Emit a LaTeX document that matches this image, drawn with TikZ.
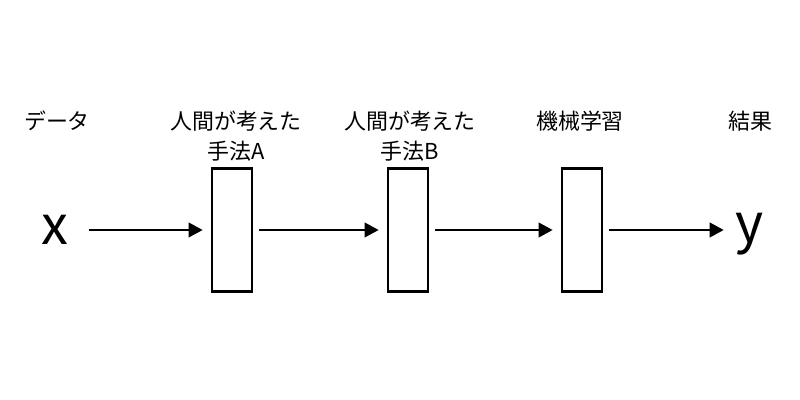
\documentclass[tikz,border=0pt]{standalone}
\usepackage{fontspec}
\setmainfont{Noto Sans CJK JP}
\usetikzlibrary{arrows.meta}

\tikzset{
	stage/.style={draw, line width=0.07cm, minimum width=1.0cm, minimum height=3.08cm, inner sep=0pt},
	flow/.style={line width=0.04cm, -{Triangle[length=0.35cm, width=0.37cm]}, shorten <=0.15cm, shorten >=0.2cm},
	caption/.style={anchor=north, align=center, inner sep=0pt, font=\fontsize{15.6}{21.3}\selectfont},
	var/.style={inner sep=0pt, font=\fontsize{38.4}{40}\selectfont}
}

\begin{document}
\begin{tikzpicture}
			%%%%% START %%%%%
			
			\useasboundingbox (0, 0) rectangle (20, 10);
			
			\node[var] (in) at (1.375, 4.25) {x};
			\node[var] (out) at (18.75, 4.15) {y};
			
			\node[stage] (boxA) at (5.8, 4.25) {};
			\node[stage] (boxB) at (10.2, 4.25) {};
			\node[stage] (boxC) at (14.55, 4.25) {};
			
			\node[caption] (capIn) at (1.425, 7.225) {データ};
			\node[caption] (capA) at (5.9, 7.225) {人間が考えた\\手法A};
			\node[caption] (capB) at (10.25, 7.225) {人間が考えた\\手法B};
			\node[caption] (capC) at (14.5, 7.225) {機械学習};
			\node[caption] (capOut) at (18.75, 7.225) {結果};
			
			\draw[flow, shorten <=0.5cm] (in) -- (boxA);
			\draw[flow] (boxA) -- (boxB);
			\draw[flow] (boxB) -- (boxC);
			\draw[flow, shorten >=0.3cm] (boxC.east) -- (boxC.east -| out.west);
			
			%%%%% END %%%%%
\end{tikzpicture}
\end{document}
